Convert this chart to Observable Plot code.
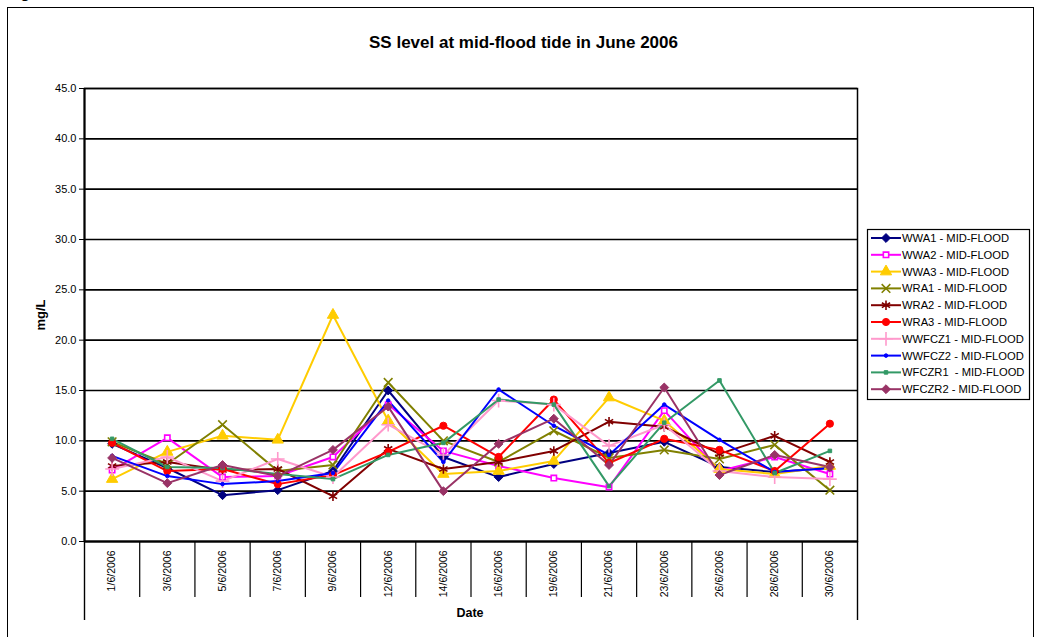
<!DOCTYPE html>
<html>
<head>
<meta charset="utf-8">
<script src="https://cdn.jsdelivr.net/npm/d3@7"></script>
<script src="https://cdn.jsdelivr.net/npm/@observablehq/plot@0.6"></script>
<style>
  html, body { margin: 0; padding: 0; background: #fff; }
  #wrap { position: relative; width: 1042px; height: 637px; overflow: hidden; font-family: "Liberation Sans", Arial, sans-serif; }
  #border { position: absolute; left: 7px; top: 7px; width: 1027px; height: 700px; border: 1.5px solid #000; box-sizing: border-box; }
  #fig { position: absolute; left: 6px; top: -15px; font-size: 16px; font-weight: bold; line-height: 16px; }
  #title { position: absolute; left: 0; width: 1047px; top: 33.5px; text-align: center; font-size: 17px; line-height: 17px; font-weight: bold; }
  #ylab { position: absolute; left: 40px; top: 315px; transform: translate(-50%, -50%) rotate(-90deg); font-size: 13px; font-weight: bold; white-space: nowrap; }
  #xlab { position: absolute; left: 470px; top: 613px; transform: translate(-50%, -50%); font-size: 12.5px; font-weight: bold; }
  #chart { position: absolute; left: 0; top: 0; }
  #legend { position: absolute; left: 867px; top: 229px; }
</style>
</head>
<body>
<div id="wrap">
  <div id="fig">Figure</div>
  <div id="border"></div>
  <div id="chart"></div>
  <div id="title">SS level at mid-flood tide in June 2006</div>
  <div id="ylab">mg/L</div>
  <div id="xlab">Date</div>
  <div id="legend"></div>
</div>
<script>
const dates = ["1/6/2006","3/6/2006","5/6/2006","7/6/2006","9/6/2006","12/6/2006","14/6/2006","16/6/2006","19/6/2006","21/6/2006","23/6/2006","26/6/2006","28/6/2006","30/6/2006"];
const seriesNames = ["WWA1 - MID-FLOOD","WWA2 - MID-FLOOD","WWA3 - MID-FLOOD","WRA1 - MID-FLOOD","WRA2 - MID-FLOOD","WRA3 - MID-FLOOD","WWFCZ1 - MID-FLOOD","WWFCZ2 - MID-FLOOD","WFCZR1  - MID-FLOOD","WFCZR2 - MID-FLOOD"];
const WWA1   = [9.7, 7.3, 4.6, 5.1, 7.0, 15.0, 8.4, 6.4, 7.7, 8.8, 9.9, 7.4, 6.9, 7.3];
const WWA2   = [7.1, 10.3, 6.4, 6.5, 8.4, 13.6, 9.0, 7.5, 6.3, 5.4, 13.0, 7.0, 8.4, 6.7];
const WWA3   = [6.2, 8.9, 10.5, 10.1, 22.5, 12.0, 6.7, 7.0, 8.0, 14.3, 12.0, 7.2, 6.7, 7.5];
const WRA1   = [9.9, 7.7, 11.6, 7.0, 7.6, 15.8, 10.0, 7.9, 11.0, 8.3, 9.1, 8.2, 9.6, 5.1];
const WRA2   = [7.5, 7.9, 7.1, 7.2, 4.5, 9.2, 7.2, 7.9, 9.0, 11.9, 11.4, 8.7, 10.5, 7.9];
const WRA3   = [9.8, 7.0, 7.2, 5.7, 6.6, 8.9, 11.5, 8.4, 14.1, 7.8, 10.2, 9.1, 7.0, 11.7];
const WWFCZ1 = [7.2, 8.4, 6.0, 8.2, 6.4, 11.6, 8.6, 14.0, 13.6, 9.5, 11.6, 7.0, 6.4, 6.2];
const WWFCZ2 = [8.5, 6.5, 5.7, 6.0, 6.8, 14.0, 7.9, 15.1, 11.5, 8.6, 13.6, 10.1, 6.9, 7.3];
const WFCZR1 = [10.2, 7.4, 7.3, 6.7, 6.2, 8.6, 9.8, 14.1, 13.6, 5.5, 11.8, 16.0, 6.8, 9.0];
const WFCZR2 = [8.3, 5.8, 7.6, 6.5, 9.1, 13.4, 5.0, 9.7, 12.2, 7.6, 15.3, 6.6, 8.6, 7.4];
const yTicks = [0, 5, 10, 15, 20, 25, 30, 35, 40, 45];

const seriesValues = [WWA1, WWA2, WWA3, WRA1, WRA2, WRA3, WWFCZ1, WWFCZ2, WFCZR1, WFCZR2];
const colors = ["#000080", "#FF00FF", "#FFCC00", "#808000", "#800000", "#FF0000", "#FF99CC", "#0000FF", "#339966", "#993366"];
const markers = [
  {symbol: "diamond2", r: 4, filled: true},
  {symbol: "square", r: 3, filled: false, fillColor: "#fff"},
  {symbol: "triangle", r: 4.2, filled: true},
  {symbol: "times", r: 4, filled: false},
  {symbol: "asterisk", r: 4.5, filled: false},
  {symbol: "circle", r: 3.6, filled: true},
  {symbol: "plus", r: 4.5, filled: false},
  {symbol: "circle", r: 1.8, filled: true},
  {symbol: "square", r: 2, filled: true},
  {symbol: "diamond2", r: 4, filled: true}
];

const rows = seriesValues.map((vals, s) => vals.map((v, i) => ({s, i, v})));

const marks = [
  Plot.ruleY(yTicks, {stroke: "#000", strokeWidth: 1.6}),
  Plot.frame({stroke: "#000", strokeWidth: 1.5}),
  Plot.ruleX([-0.5], {stroke: "#000", strokeWidth: 2}),
  Plot.ruleY([0], {stroke: "#000", strokeWidth: 2.2}),
  Plot.axisY(yTicks, {tickSize: 5, tickPadding: 3, tickFormat: d => d.toFixed(1), label: null, fontSize: 11, stroke: "#000", fill: "#000"}),
  Plot.axisX(d3.range(14), {tickSize: 0, tickPadding: 9, tickRotate: -90, tickFormat: i => dates[i], label: null, fontSize: 10.5, fill: "#000"}),
  Plot.axisX(d3.range(0.5, 13, 1), {tickSize: 56, tickFormat: () => "", label: null, stroke: "#000", strokeWidth: 1.2}),
  Plot.axisX([-0.5, 13.5], {tickSize: 79, tickFormat: () => "", label: null, stroke: "#000", strokeWidth: 1.4})
];

rows.forEach((data, s) => {
  marks.push(Plot.line(data, {x: "i", y: "v", stroke: colors[s], strokeWidth: 2}));
});
rows.forEach((data, s) => {
  const m = markers[s];
  marks.push(Plot.dot(data, {
    x: "i", y: "v", symbol: () => m.symbol, r: m.r,
    fill: m.filled ? colors[s] : (m.fillColor || "none"),
    stroke: colors[s], strokeWidth: m.filled ? 1 : 1.6
  }));
});

const chart = Plot.plot({
  width: 1042, height: 637,
  marginLeft: 84, marginRight: 185, marginTop: 88, marginBottom: 96,
  x: {type: "linear", domain: [-0.5, 13.5], axis: null},
  y: {domain: [0, 45], axis: null},
  symbol: {type: "identity"},
  style: {fontFamily: "Liberation Sans, Arial, sans-serif", fontSize: "11px", color: "#000", background: "transparent", overflow: "visible"},
  marks
});
document.getElementById("chart").appendChild(chart);

// Legend
const lw = 163, lh = 171, rowH = 16.8;
const leg = d3.select("#legend").append("svg").attr("width", lw).attr("height", lh)
  .style("font-family", "Liberation Sans, Arial, sans-serif").style("overflow", "visible");
leg.append("rect").attr("x", 0.5).attr("y", 0.5).attr("width", lw - 1).attr("height", lh - 1)
  .attr("fill", "#fff").attr("stroke", "#000").attr("stroke-width", 1.2);
const symMap = {diamond2: d3.symbolDiamond2, square: d3.symbolSquare, triangle: d3.symbolTriangle, times: d3.symbolTimes, asterisk: d3.symbolAsterisk, circle: d3.symbolCircle, plus: d3.symbolPlus};
seriesNames.forEach((name, s) => {
  const y = 9 + s * rowH;
  const g = leg.append("g").attr("transform", `translate(0,${y})`);
  g.append("line").attr("x1", 4).attr("x2", 34).attr("y1", 0).attr("y2", 0).attr("stroke", colors[s]).attr("stroke-width", 2);
  const m = markers[s];
  g.append("path").attr("transform", "translate(19,0)")
    .attr("d", d3.symbol(symMap[m.symbol], Math.PI * m.r * m.r)())
    .attr("fill", m.filled ? colors[s] : (m.fillColor || "none"))
    .attr("stroke", colors[s]).attr("stroke-width", m.filled ? 1 : 1.6);
  g.append("text").attr("x", 35).attr("y", 0).attr("dy", "0.35em").attr("font-size", 11.2)
    .attr("fill", "#000").style("white-space", "pre").text(name);
});
</script>
</body>
</html>
